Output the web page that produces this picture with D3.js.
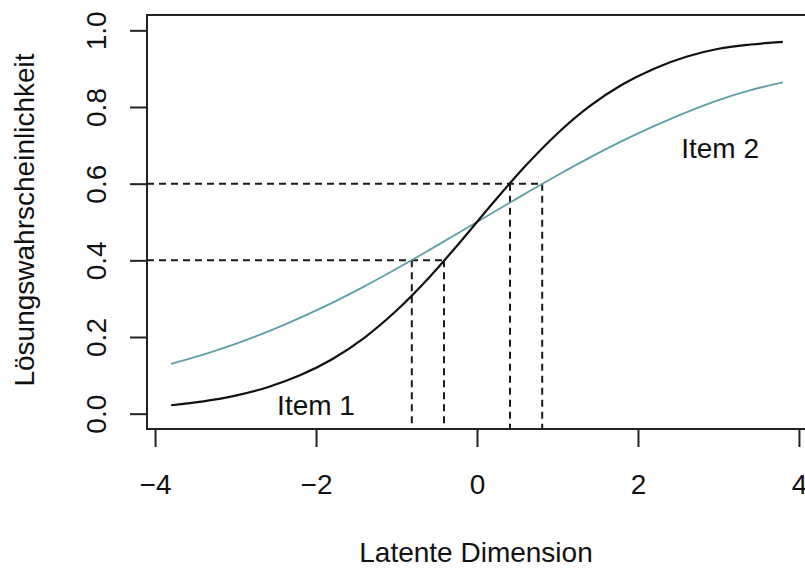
<!DOCTYPE html>
<html>
<head>
<meta charset="utf-8">
<script src="https://cdn.jsdelivr.net/npm/d3@7"></script>
<style>
  body { margin: 0; background: #fff; }
  text { font-family: "Liberation Sans", Arial, sans-serif; fill: #111; }
</style>
</head>
<body>
<svg width="805" height="569"></svg>
<script>
/* Values */
var theta = [-3.8, -3.4, -3.0, -2.6, -2.2, -1.8, -1.4, -1.0, -0.6, -0.2,
              0.2,  0.6,  1.0,  1.4,  1.8,  2.2,  2.6,  3.0,  3.4,  3.8];
var item1 = [0.022, 0.032, 0.047, 0.069, 0.100, 0.142, 0.198, 0.269, 0.354, 0.450,
             0.550, 0.646, 0.731, 0.802, 0.858, 0.900, 0.931, 0.952, 0.963, 0.970];
var item2 = [0.130, 0.154, 0.182, 0.214, 0.250, 0.289, 0.332, 0.378, 0.426, 0.475,
             0.525, 0.574, 0.622, 0.668, 0.711, 0.750, 0.786, 0.818, 0.844, 0.864];
var levels = [0.4, 0.6];
var item1Cross = [-0.41, 0.41];
var item2Cross = [-0.81, 0.81];
var xTicks = [-4, -2, 0, 2, 4];
var yTicks = [0, 0.2, 0.4, 0.6, 0.8, 1.0];
var labels = [
  { text: 'Item 1', x: -2.0, y: -0.003 },
  { text: 'Item 2', x: 3.02, y: 0.667 }
];

var svg = d3.select('svg');
var x = d3.scaleLinear().domain([-4.1, 4.1]).range([147, 807]);
var y = d3.scaleLinear().domain([-0.04, 1.04]).range([429, 15]);

// dashed guide lines first, curves on top
var guides = svg.append('g')
    .attr('fill', 'none')
    .attr('stroke', '#1a1a1a')
    .attr('stroke-width', 2)
    .attr('stroke-dasharray', '7,5');

levels.forEach(function(lv, i) {
  var far = Math.max(item1Cross[i], item2Cross[i]);
  guides.append('line')
      .attr('x1', x.range()[0]).attr('x2', x(far))
      .attr('y1', y(lv)).attr('y2', y(lv));
  [item1Cross[i], item2Cross[i]].forEach(function(c) {
    guides.append('line')
        .attr('x1', x(c)).attr('x2', x(c))
        .attr('y1', y(lv)).attr('y2', y.range()[0]);
  });
});

var line = d3.line()
    .x(function(d) { return x(d[0]); })
    .y(function(d) { return y(d[1]); })
    .curve(d3.curveCatmullRom);

svg.append('path')
    .datum(d3.zip(theta, item2))
    .attr('d', line)
    .attr('fill', 'none')
    .attr('stroke', '#5f9fa6')
    .attr('stroke-width', 1.8);

svg.append('path')
    .datum(d3.zip(theta, item1))
    .attr('d', line)
    .attr('fill', 'none')
    .attr('stroke', '#111')
    .attr('stroke-width', 2.2);

// box
svg.append('rect')
    .attr('x', x.range()[0]).attr('y', y.range()[1])
    .attr('width', x.range()[1] - x.range()[0])
    .attr('height', y.range()[0] - y.range()[1])
    .attr('fill', 'none')
    .attr('stroke', '#222')
    .attr('stroke-width', 2);

// axes
var xAxis = svg.append('g')
    .attr('transform', 'translate(0,430)')
    .call(d3.axisBottom(x).tickValues(xTicks).tickSize(17));
xAxis.select('.domain').remove();
xAxis.selectAll('line').attr('stroke', '#222').attr('stroke-width', 2);
xAxis.selectAll('text')
    .attr('y', 64).attr('dy', null)
    .style('font-size', '28px')
    .style('font-family', '"Liberation Sans", Arial, sans-serif')
    .attr('fill', '#111');

var yAxis = svg.append('g')
    .attr('transform', 'translate(147,0)')
    .call(d3.axisLeft(y).tickValues(yTicks).tickSize(17).tickFormat(d3.format('.1f')));
yAxis.select('.domain').remove();
yAxis.selectAll('line').attr('stroke', '#222').attr('stroke-width', 2);
yAxis.selectAll('text')
    .attr('x', null).attr('dy', null)
    .attr('text-anchor', 'middle')
    .attr('transform', 'translate(-41,0) rotate(-90)')
    .style('font-size', '28px')
    .style('font-family', '"Liberation Sans", Arial, sans-serif')
    .attr('fill', '#111');

// curve labels
svg.selectAll('.curve-label')
    .data(labels)
  .enter().append('text')
    .attr('class', 'curve-label')
    .attr('x', function(d) { return x(d.x); })
    .attr('y', function(d) { return y(d.y); })
    .attr('text-anchor', 'middle')
    .style('font-size', '28px')
    .text(function(d) { return d.text; });

// axis titles
svg.append('text')
    .attr('x', 476).attr('y', 562)
    .attr('text-anchor', 'middle')
    .style('font-size', '28px')
    .text('Latente Dimension');

svg.append('text')
    .attr('transform', 'translate(34,220) rotate(-90)')
    .attr('text-anchor', 'middle')
    .style('font-size', '28px')
    .text('Lösungswahrscheinlichkeit');
</script>
</body>
</html>
